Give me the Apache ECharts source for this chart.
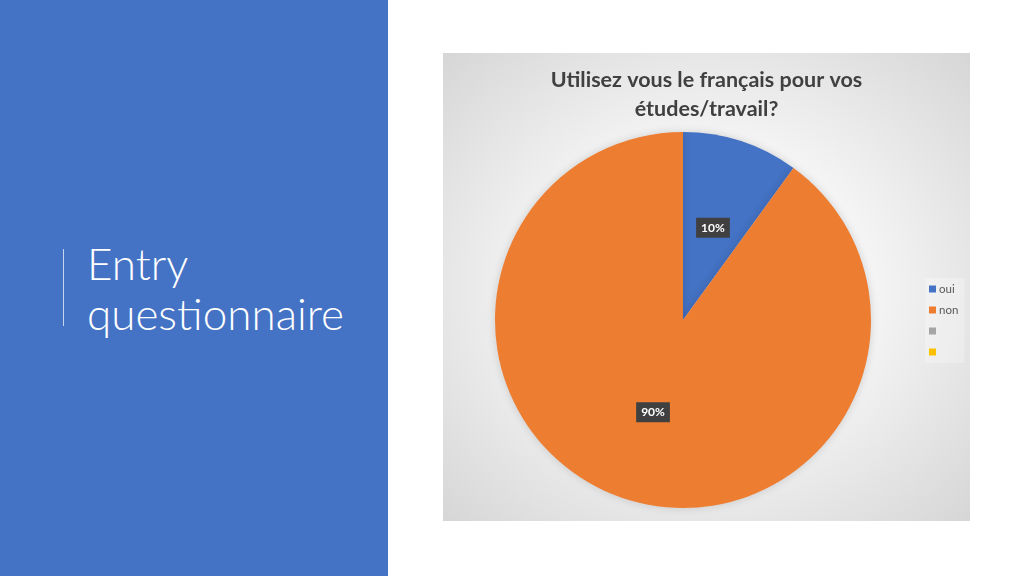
<!DOCTYPE html>
<html>
<head>
<meta charset="utf-8">
<script src="https://cdn.jsdelivr.net/npm/echarts@6/dist/echarts.min.js"></script>
<style>
	body { margin: 0; width: 1024px; height: 576px; background: #ffffff; position: relative; overflow: hidden; }
	#leftpanel { position: absolute; left: 0; top: 0; width: 388px; height: 576px; background: #4472c4; }
	#bar { position: absolute; left: 63px; top: 249px; width: 1px; height: 77px; background: #c5d3ee; }
	#heading { position: absolute; left: 87px; top: 238px; color: #ffffff; font-family: Lato, "Open Sans", sans-serif; font-weight: 300; font-size: 44px; line-height: 50px; }
	#chart { position: absolute; left: 443px; top: 53px; width: 527px; height: 468px;
		background: radial-gradient(ellipse at 50% 50%, #ffffff 0%, #f4f4f4 45%, #d6d6d6 100%); }
</style>
</head>
<body>
<div id="leftpanel">
	<div id="bar"></div>
	<div id="heading">Entry<br>questionnaire</div>
</div>
<div id="chart"></div>
<script>
var categories = ['oui', 'non', 'c3', 'c4'];
var legendLabels = ['oui', 'non', '\u00a0', '\u00a0'];
var values = [10, 90, 0, 0];
var colors = ['#4472c4', '#ed7d31', '#a5a5a5', '#ffc000'];

function getPie() {
	var myChart = echarts.init(document.getElementById('chart'));
	var pieData = [];
	for (var i = 0; i < categories.length; i++) {
		pieData.push({
			name: categories[i],
			value: values[i],
			label: { show: values[i] > 0 }
		});
	}
	var option = {
		color: colors,
		title: {
			text: 'Utilisez vous le français pour vos\nétudes/travail?',
			left: 'center',
			top: 8,
			textStyle: {
				fontFamily: 'Lato',
				fontSize: 21.5,
				fontWeight: 'bold',
				color: '#404040',
				lineHeight: 29
			}
		},
		legend: {
			orient: 'vertical',
			left: 482,
			top: 225,
			itemWidth: 7,
			itemHeight: 7,
			itemGap: 7,
			icon: 'rect',
			padding: [4, 6, 4, 4],
			backgroundColor: 'rgba(255,255,255,0.25)',
			data: categories,
			formatter: function (name) {
				return legendLabels[categories.indexOf(name)];
			},
			textStyle: {
				fontFamily: 'Lato',
				fontSize: 11.5,
				lineHeight: 14,
				color: '#595959',
				padding: [0, 0, 0, -2]
			}
		},
		series: [{
			type: 'pie',
			radius: 188,
			center: [240, 267],
			startAngle: 90,
			clockwise: true,
			avoidLabelOverlap: false,
			data: pieData,
			label: {
				position: 'inside',
				formatter: '{d}%',
				fontFamily: 'Lato',
				fontSize: 12,
				fontWeight: 'bold',
				color: '#ffffff',
				backgroundColor: '#404040',
				padding: [4, 5, 4, 5]
			},
			labelLine: { show: false },
			itemStyle: {
				borderWidth: 0,
				shadowBlur: 8,
				shadowColor: 'rgba(0,0,0,0.15)'
			},
			emphasis: { disabled: true }
		}]
	};
	myChart.setOption(option);
}
getPie();
</script>
</body>
</html>
